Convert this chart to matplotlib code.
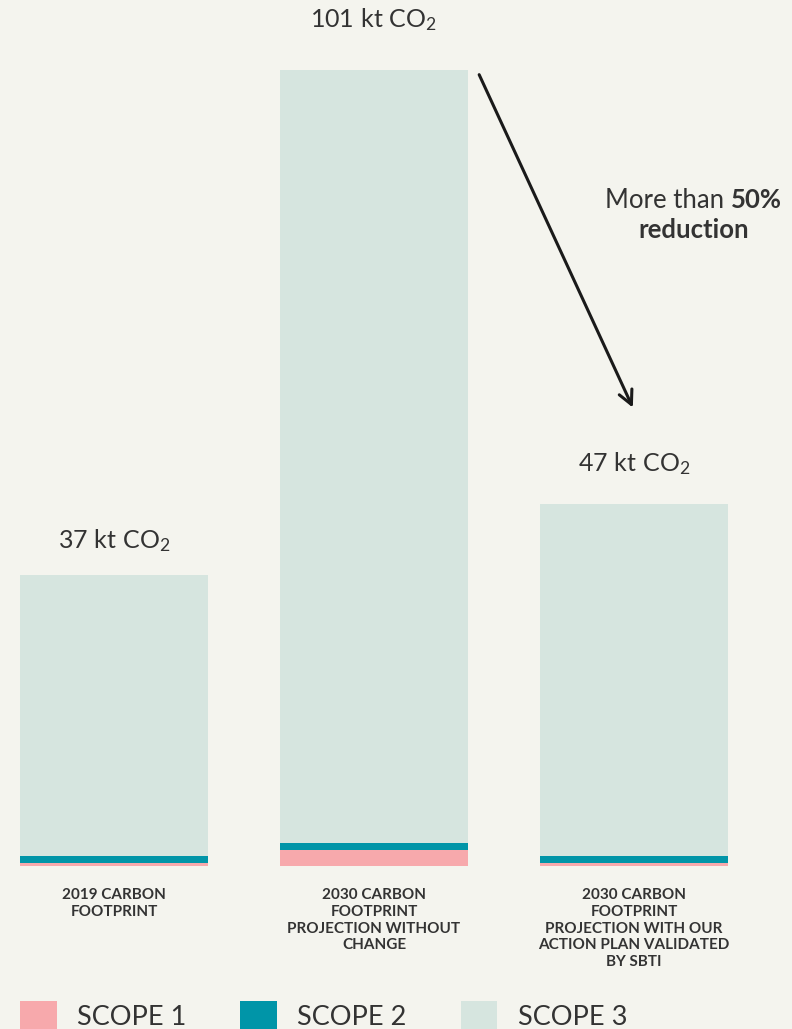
import matplotlib.pyplot as plt
from matplotlib.patches import Patch

# data (kt CO2)
categories = ["2019 CARBON\nFOOTPRINT",
              "2030 CARBON\nFOOTPRINT\nPROJECTION WITHOUT\nCHANGE",
              "2030 CARBON\nFOOTPRINT\nPROJECTION WITH OUR\nACTION PLAN VALIDATED\nBY SBTI"]
scope1 = [0.4, 2.0, 0.4]
scope2 = [0.9, 0.9, 0.9]
scope3 = [35.7, 98.4, 44.8]
totals = [37, 101, 47]
scope_names = ["SCOPE 1", "SCOPE 2", "SCOPE 3"]

colors = ["#F7A9AC", "#0095A8", "#D6E5DF"]
bg = "#F4F4EE"
txt = "#333333"

plt.rcParams['font.family'] = ['Lato', 'DejaVu Sans']
plt.rcParams['mathtext.fontset'] = 'custom'
plt.rcParams['mathtext.rm'] = 'Lato'
plt.rcParams['mathtext.it'] = 'Lato'

fig = plt.figure(figsize=(7.92, 10.29), dpi=100)
fig.patch.set_facecolor(bg)
ax = fig.add_axes([0, 163 / 1029, 1, 866 / 1029])
ax.set_facecolor(bg)

x = list(range(len(categories)))
w = 188 / 260
ax.bar(x, scope1, width=w, color=colors[0])
ax.bar(x, scope2, width=w, bottom=scope1, color=colors[1])
base3 = [a + b for a, b in zip(scope1, scope2)]
ax.bar(x, scope3, width=w, bottom=base3, color=colors[2])

ax.set_xlim(-114 / 260, 2 + 158 / 260)
ax.set_ylim(0, 866 / 7.86)

# total labels
stack = [a + b for a, b in zip(base3, scope3)]
offsets = [25, 36, 29]
for i, t in enumerate(totals):
    ax.annotate(r"$\mathrm{%d\ kt\ CO}_{2}$" % t, (i, stack[i]), xytext=(0, offsets[i]),
                textcoords="offset points", ha="center", va="center", fontsize=18, color=txt)

# arrow + reduction note
ax.annotate("", xy=(2.0, 58), xytext=(1.40, 101),
            arrowprops=dict(arrowstyle="->,head_length=1.0,head_width=0.5", lw=2.2, color="#1a1a1a"))
ax.text(2.345, 84.7, "More than", ha="right", va="center", fontsize=18.5, color=txt)
ax.text(2.373, 84.7, "50%", ha="left", va="center", fontsize=18.5, color=txt, fontweight="bold")
ax.text(2.231, 80.9, "reduction", ha="center", va="center", fontsize=18.5, color=txt, fontweight="bold")

ax.set_xticks(x)
ax.set_xticklabels(categories, fontsize=11, fontweight="bold", color=txt, linespacing=1.25,
                   va="top")
ax.tick_params(axis="x", length=0, pad=16)
ax.set_yticks([])
for s in ax.spines.values():
    s.set_visible(False)

handles = [Patch(facecolor=c, edgecolor="none") for c in colors]
fig.legend(handles, scope_names, ncol=3, loc="lower left", bbox_to_anchor=(20 / 792, -2 / 1029),
           frameon=False, handlelength=1.35, handleheight=1.35, borderpad=0, borderaxespad=0,
           handletextpad=0.75, columnspacing=2.0, labelcolor=txt,
           prop={"size": 19.5})

fig.savefig("out.png", dpi=100, facecolor=bg)
